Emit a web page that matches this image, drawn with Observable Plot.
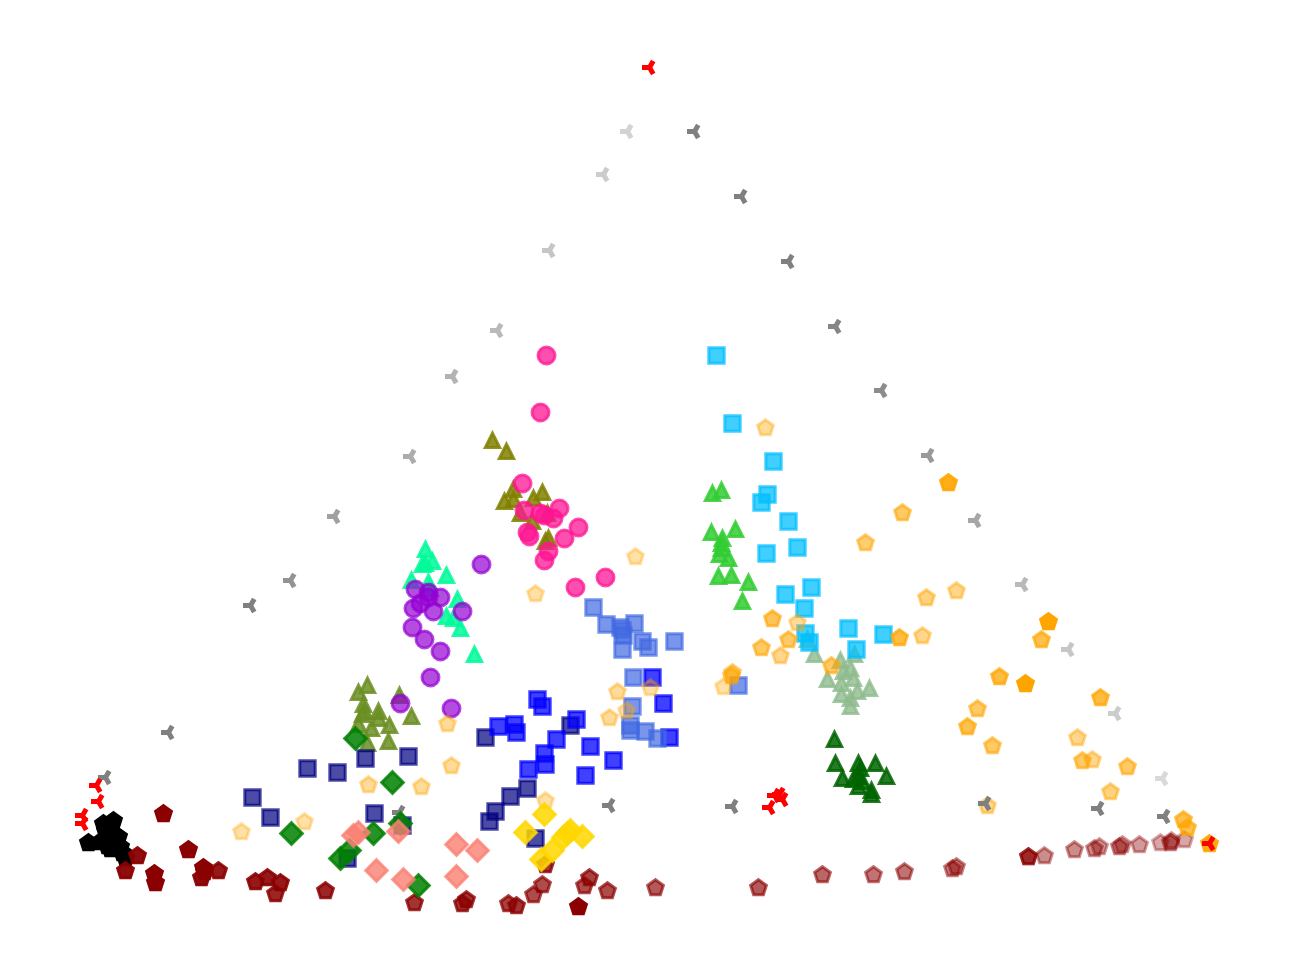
<!DOCTYPE html>
<html><head><meta charset="utf-8">
<style>html,body{margin:0;padding:0;background:#fff;overflow:hidden}svg{display:block}</style>
<script src="https://cdn.jsdelivr.net/npm/d3@7"></script>
<script src="https://cdn.jsdelivr.net/npm/@observablehq/plot@0.6"></script>
</head><body><div id="chart"></div>
<script>
// Values: [x, y] or [x, y, alpha]
const limeTri = [[712,492],[721,489],[711,531],[735,528],[722,537],[721,542],[721,547],[719,553],[728,557],[718,575],[731,574],[748,581],[742,600]];
const seaTri = [[814,653],[807,638],[854,653],[840,659],[827,678],[869,687],[850,705],[841,693],[857,690],[853,677],[843,670],[850,667],[841,682],[850,697]];
const dkGreenTri = [[834,738],[835,762],[858,762],[860,767],[875,762],[886,775],[842,777],[853,778],[858,775],[862,780],[858,785],[871,789],[871,793]];
const oliveTri = [[492,439],[506,450],[513,488],[542,491],[504,500],[513,498],[533,497],[520,512],[547,512],[532,520],[548,537],[545,540]];
const drabTri = [[367,684],[358,691],[399,694],[363,703],[364,710],[378,710],[362,713],[378,717],[411,715],[389,724],[358,723],[371,727],[388,740],[367,742]];
const springTri = [[425,548],[425,562],[432,560],[422,563],[446,574],[411,579],[428,581],[430,587],[457,598],[446,615],[453,617],[460,627],[474,653]];
const violetDot = [[481,564],[415,589],[428,592],[440,597],[428,597],[420,603],[413,608],[433,611],[462,611],[412,627],[424,639],[440,651],[430,677],[400,703],[451,708]];
const pinkDot = [[546,355],[540,412],[522,483],[524,510],[559,508],[540,513],[544,515],[553,518],[578,527],[527,532],[529,536],[564,538],[548,551],[544,560],[605,577],[575,587]];
const navySq = [[252,797],[270,817],[307,768],[337,772],[365,758],[408,756],[374,813],[402,825],[347,858],[485,737],[570,725],[527,788],[510,796],[495,811],[489,821],[535,838]];
const blueSq = [[537,699],[542,706],[498,726],[514,724],[516,732],[576,719],[556,739],[590,746],[544,753],[545,764],[528,769],[613,760],[585,775],[652,677],[663,703],[669,737]];
const cornSq = [[593,607],[606,624],[634,623],[622,630],[620,627],[623,635],[622,649],[642,641],[648,647],[674,641],[633,677],[632,706],[630,725],[630,730],[645,731],[657,738],[738,685]];
const skySq = [[716,355],[732,423],[773,461],[767,494],[761,502],[788,521],[797,547],[766,553],[785,594],[811,587],[804,608],[805,633],[809,642],[848,628],[856,649],[883,634]];
const blackPent = [[113,820],[103,823],[88,842],[100,841],[107,845],[112,833],[105,830],[118,836],[125,857],[115,843],[120,846],[110,848],[122,852]];
const redPent = [[163,813,1],[137,855,.95],[188,849,1],[125,870,.95],[154,873,1],[155,882,1],[203,867,1],[204,871,1],[201,877,.95],[218,870,.9],[255,881,.9],[267,877,.9],[280,882,.9],[275,893,.85],[325,890,.85],[414,902,.8],[462,903,.8],[466,899,.8],[508,903,.75],[516,905,.8],[533,894,.7],[542,884,.7],[545,864,.8],[584,885,.7],[589,877,.75],[578,906,1],[607,890,.7],[655,887,.65],[758,887,.65],[822,874,.6],[873,874,.55],[904,871,.55],[952,868,.5],[956,866,.5],[1028,856,.6],[1028,856,.6],[1044,855,.45],[1074,849,.45],[1094,848,.45],[1099,846,.4],[1119,846,.5],[1122,844,.4],[1139,844,.4],[1160,842,.35],[1170,842,.5],[1171,840,.4],[1184,839,.35]];
const orangePent = [[948,482,.9],[902,512,.6],[865,542,.55],[765,427,.4],[635,556,.35],[535,593,.35],[926,597,.5],[956,590,.45],[899,637,.75],[922,635,.45],[772,618,.65],[797,622,.4],[788,639,.6],[761,647,.6],[780,655,.45],[831,665,.6],[732,672,.55],[731,675,.6],[723,686,.35],[977,708,.6],[967,726,.7],[1048,621,1],[1041,639,.7],[999,676,.75],[1025,683,1],[992,745,.6],[1100,697,.75],[1077,737,.45],[1082,760,.6],[1092,759,.45],[1127,766,.6],[1110,791,.5],[987,805,.45],[1183,819,.7],[1187,827,.7],[1209,843,.9],[447,723,.4],[451,765,.4],[368,784,.4],[421,786,.4],[545,800,.35],[617,691,.4],[650,687,.35],[609,717,.4],[626,710,.35],[241,831,.35],[304,821,.35]];
const grayTri = [[627,131,.35],[603,174,.4],[549,250,.45],[497,330,.55],[452,376,.6],[410,456,.65],[334,516,.75],[290,580,.85],[250,605,1],[168,732,1],[105,777,1],[694,131,1],[741,196,1],[788,261,1],[835,326,.95],[881,390,.9],[928,455,.8],[975,520,.7],[1022,584,.55],[1068,649,.45],[1115,713,.4],[1162,778,.3],[609,805,1],[732,806,1],[985,803,1],[1098,808,1],[1164,816,1],[399,812,1]];
const redTri = [[96,785],[98,801],[82,815],[82,823],[649,67],[774,795],[779,794],[782,799],[769,807],[1209,843]];
const greenDia = [[355,738],[392,782],[291,833],[373,833],[400,823],[349,850],[340,858],[418,885]];
const salmonDia = [[358,832],[353,835],[398,831],[376,870],[403,879],[456,844],[477,850],[456,876]];
const goldDia = [[544,814],[525,832],[582,836],[570,830],[567,833],[563,837],[552,850],[541,859]];

// Marker shapes (radius comes from the mark's r option)
const R = (s) => Math.sqrt(s / Math.PI);
const pentagon = {draw(c, s) {const r = R(s); for (let i = 0; i < 5; i++) {const a = -Math.PI/2 + i*2*Math.PI/5; const x = r*Math.cos(a), y = r*Math.sin(a) + 0.5; i ? c.lineTo(x,y) : c.moveTo(x,y);} c.closePath();}};
const square = {draw(c, s) {const r = R(s); c.moveTo(-r,-r); c.lineTo(r,-r); c.lineTo(r,r); c.lineTo(-r,r); c.closePath();}};
const diamond = {draw(c, s) {const r = R(s); c.moveTo(0,-r); c.lineTo(r,0); c.lineTo(0,r); c.lineTo(-r,0); c.closePath();}};
const triangle = {draw(c, s) {const r = R(s); const d = 0.9; c.moveTo(0,-r+d); c.lineTo(r,r+d); c.lineTo(-r,r+d); c.closePath();}};
const triLeft = {draw(c, s) {const r = R(s); const ax = r*0.5, ay = r*0.866; c.moveTo(0,0); c.lineTo(-r,0); c.moveTo(0,0); c.lineTo(ax,-ay); c.moveTo(0,0); c.lineTo(ax,ay);}};

function series(points, symbol, r, color, alpha, sw = 3, filled = true) {
  const op = (d) => d[2] ?? alpha;
  return Plot.dot(points, {
    x: (d) => d[0], y: (d) => d[1], symbol, r,
    fill: filled ? color : "none", stroke: color, strokeWidth: sw,
    fillOpacity: filled ? op : undefined, strokeOpacity: op
  });
}

const chart = Plot.plot({
  width: 1289, height: 974, margin: 0,
  x: {domain: [0, 1289], range: [0, 1289], axis: null},
  y: {domain: [0, 974], range: [0, 974], axis: null},
  style: {background: "#fff", maxWidth: "none"},
  marks: [
    series(limeTri, triangle, 7.2, "#32cd32", .85),
    series(seaTri, triangle, 7.2, "#8fbc8f", .8),
    series(dkGreenTri, triangle, 7.2, "#006400", .85),
    series(oliveTri, triangle, 7.2, "#808000", .85),
    series(drabTri, triangle, 7.2, "#6b8e23", .85),
    series(springTri, triangle, 7.2, "#00fa9a", .85),
    series(violetDot, d3.symbolCircle, 8.5, "#9400d3", .7),
    series(pinkDot, d3.symbolCircle, 8.5, "#ff1493", .75),
    series(navySq, square, 7.7, "#000080", .7),
    series(blueSq, square, 7.7, "#0000ff", .75),
    series(cornSq, square, 7.7, "#4169e1", .7),
    series(skySq, square, 7.7, "#00bfff", .75),
    series(blackPent, pentagon, 8.3, "#000000", 1),
    series(redPent, pentagon, 8.3, "#8b0000", 1),
    series(orangePent, pentagon, 8.3, "#ffa500", 1),
    series(grayTri, triLeft, 7.5, "#808080", 1, 5, false),
    series(redTri, triLeft, 7.5, "#ff0000", 1, 5, false),
    series(greenDia, diamond, 10.8, "#008000", .85),
    series(salmonDia, diamond, 10.8, "#fa8072", .8),
    series(goldDia, diamond, 10.8, "#ffd700", .85)
  ]
});
document.getElementById("chart").appendChild(chart);
</script></body></html>
